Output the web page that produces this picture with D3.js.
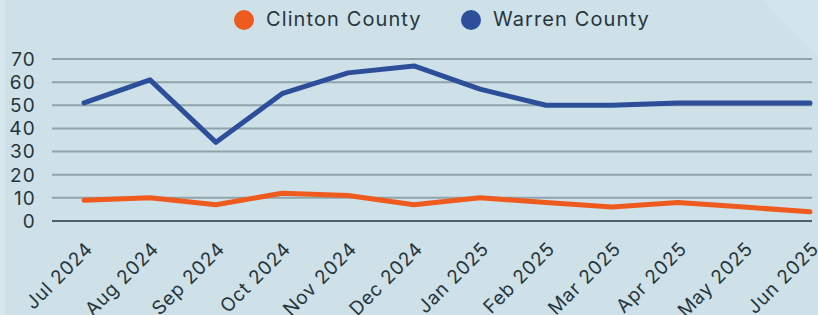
<!DOCTYPE html>
<html>
<head>
<meta charset="utf-8">
<script src="https://cdn.jsdelivr.net/npm/d3@7"></script>
<style>
  html, body { margin: 0; padding: 0; background: #cfe1e9; }
  svg { display: block; }
</style>
</head>
<body>
<script>
var months = ["Jul 2024", "Aug 2024", "Sep 2024", "Oct 2024", "Nov 2024", "Dec 2024",
              "Jan 2025", "Feb 2025", "Mar 2025", "Apr 2025", "May 2025", "Jun 2025"];
var clinton = [9, 10, 7, 12, 11, 7, 10, 8, 6, 8, 6, 4];
var warren = [51, 61, 34, 55, 64, 67, 57, 50, 50, 51, 51, 51];
var yTicks = [0, 10, 20, 30, 40, 50, 60, 70];

var w = 818, h = 315;
var font = "Inter, 'Open Sans', sans-serif";

var svg = d3.select("body").append("svg")
    .attr("width", w)
    .attr("height", h);

// background, with a faint diagonal panel in the top right corner
svg.append("rect").attr("width", w).attr("height", h).attr("fill", "#cee1e9");
svg.append("path")
    .attr("d", "M763,0 L818,0 L818,56 Z")
    .attr("fill", "#d3e5ec");
svg.append("rect").attr("width", 5).attr("height", h).attr("fill", "#d6e7ee");

var x = d3.scalePoint().domain(months).range([84, 810]);
var y = d3.scaleLinear().domain([0, 70]).range([221, 59]);

// gridlines
svg.selectAll("line.grid")
    .data(yTicks)
    .enter()
    .append("line")
    .attr("class", "grid")
    .attr("x1", 52)
    .attr("x2", 812)
    .attr("y1", function(d) { return y(d); })
    .attr("y2", function(d) { return y(d); })
    .attr("stroke", function(d) { return d === 0 ? "#4f6168" : "#8fa3ab"; })
    .attr("stroke-width", 2);

// y labels
svg.selectAll("text.ylab")
    .data(yTicks)
    .enter()
    .append("text")
    .attr("class", "ylab")
    .attr("x", 36)
    .attr("y", function(d) { return y(d); })
    .attr("dy", "0.36em")
    .attr("text-anchor", "end")
    .attr("font-family", font)
    .attr("font-size", 19)
    .attr("letter-spacing", 1.2)
    .attr("fill", "#27353b")
    .text(function(d) { return d; });

// x labels
svg.selectAll("text.xlab")
    .data(months)
    .enter()
    .append("text")
    .attr("class", "xlab")
    .attr("text-anchor", "end")
    .attr("font-family", font)
    .attr("font-size", 19)
    .attr("letter-spacing", 0.8)
    .attr("fill", "#27353b")
    .attr("transform", function(d) {
        return "translate(" + (x(d) + 10) + ",250) rotate(-45)";
    })
    .text(function(d) { return d; });

// lines
var line = d3.line()
    .x(function(d, i) { return x(months[i]); })
    .y(function(d) { return y(d); });

svg.append("path")
    .datum(clinton)
    .attr("d", line)
    .attr("fill", "none")
    .attr("stroke", "#ef5a1f")
    .attr("stroke-width", 5)
    .attr("stroke-linecap", "round")
    .attr("stroke-linejoin", "round");

svg.append("path")
    .datum(warren)
    .attr("d", line)
    .attr("fill", "none")
    .attr("stroke", "#2d4f9a")
    .attr("stroke-width", 5)
    .attr("stroke-linecap", "round")
    .attr("stroke-linejoin", "round");

// legend
var legend = [
    { name: "Clinton County", color: "#ef5a1f", cx: 244 },
    { name: "Warren County", color: "#2d4f9a", cx: 471 }
];
var lg = svg.selectAll("g.legend")
    .data(legend)
    .enter()
    .append("g")
    .attr("class", "legend");
lg.append("circle")
    .attr("cx", function(d) { return d.cx; })
    .attr("cy", 20)
    .attr("r", 10)
    .attr("fill", function(d) { return d.color; });
lg.append("text")
    .attr("x", function(d) { return d.cx + 22; })
    .attr("y", 19)
    .attr("dy", "0.36em")
    .attr("font-family", font)
    .attr("font-size", 20)
    .attr("letter-spacing", 1.1)
    .attr("fill", "#27353b")
    .text(function(d) { return d.name; });
</script>
</body>
</html>
